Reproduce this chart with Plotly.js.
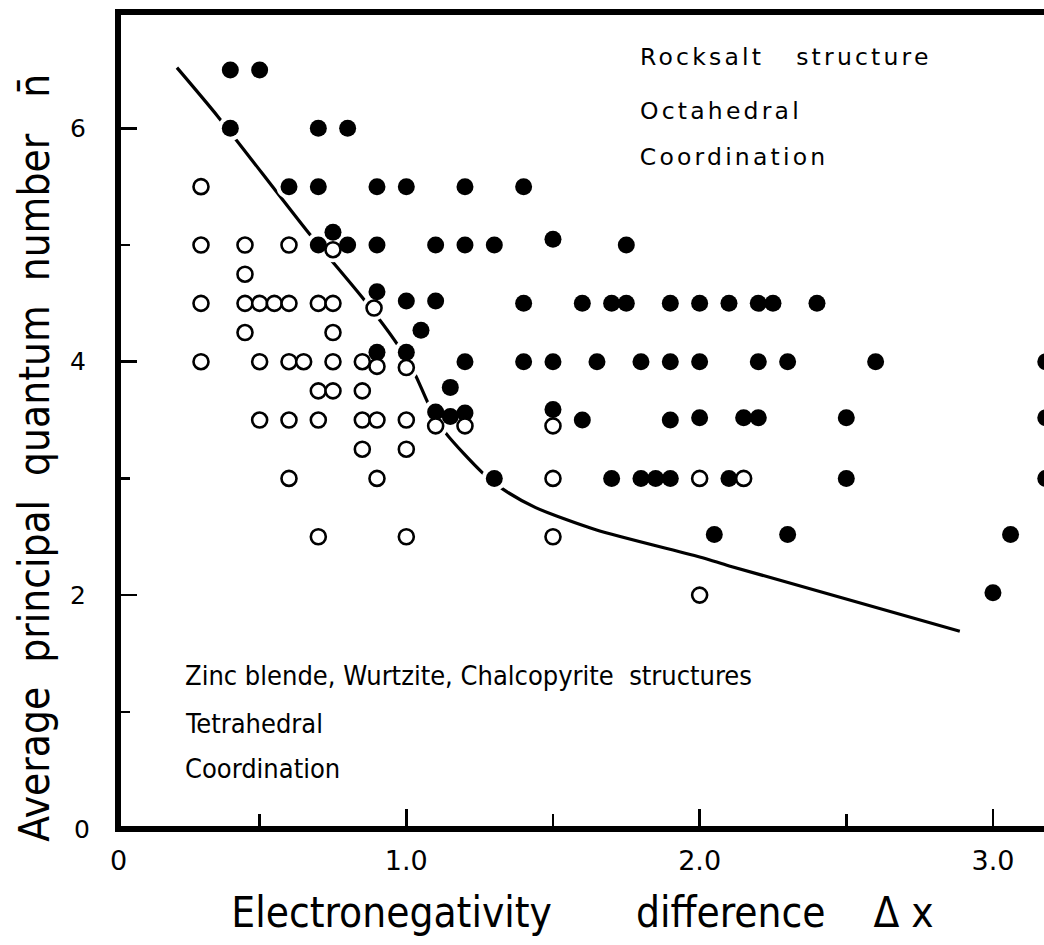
<!DOCTYPE html>
<html>
<head>
<meta charset="utf-8">
<script src="https://cdn.plot.ly/plotly-3.0.1.min.js"></script>
<style>
html,body{margin:0;padding:0;background:#fff;}
#chart{width:1044px;height:945px;}
g.annotation[data-index="2"] text,
g.annotation[data-index="3"] text,
g.annotation[data-index="4"] text{letter-spacing:3.2px;}
</style>
</head>
<body>
<div id="chart"></div>
<script>
// Rocksalt (octahedral) compounds: filled circles
var filledX = [0.40,0.50,
  0.40,0.70,0.80,
  0.60,0.70,0.90,1.00,1.20,1.40,
  0.70,0.80,0.90,1.10,1.20,1.30,1.50,1.75,
  0.75,
  0.90,1.00,1.10,1.40,1.60,1.70,1.75,1.90,2.00,2.10,2.20,2.25,2.40,
  1.05,
  0.90,1.00,1.20,1.40,1.50,1.65,1.80,1.90,2.00,2.20,2.30,2.60,3.18,
  1.15,
  1.10,1.15,1.20,1.50,1.60,1.90,2.00,2.15,2.20,2.50,3.18,
  1.30,1.70,1.80,1.85,1.90,2.10,2.50,3.18,
  2.05,2.30,3.06,
  3.00];
var filledY = [6.5,6.5,
  6.0,6.0,6.0,
  5.5,5.5,5.5,5.5,5.5,5.5,
  5.0,5.0,5.0,5.0,5.0,5.0,5.05,5.0,
  5.11,
  4.60,4.52,4.52,4.5,4.5,4.5,4.5,4.5,4.5,4.5,4.5,4.5,4.5,
  4.27,
  4.08,4.08,4.0,4.0,4.0,4.0,4.0,4.0,4.0,4.0,4.0,4.0,4.0,
  3.78,
  3.57,3.53,3.56,3.59,3.5,3.5,3.52,3.52,3.52,3.52,3.52,
  3.0,3.0,3.0,3.0,3.0,3.0,3.0,3.0,
  2.52,2.52,2.52,
  2.02];

// Zinc blende / wurtzite / chalcopyrite (tetrahedral) compounds: open circles
var openX = [0.30,
  0.30,0.45,0.60,0.75,
  0.45,
  0.30,0.45,0.50,0.55,0.60,0.70,0.75,0.89,
  0.45,0.75,
  0.30,0.50,0.60,0.65,0.75,0.85,0.90,1.00,
  0.70,0.75,0.85,
  0.50,0.60,0.70,0.85,0.90,1.00,1.10,1.20,1.50,
  0.85,1.00,
  0.60,0.90,1.50,2.00,2.15,
  0.70,1.00,1.50,
  2.00];
var openY = [5.5,
  5.0,5.0,5.0,4.96,
  4.75,
  4.5,4.5,4.5,4.5,4.5,4.5,4.5,4.46,
  4.25,4.25,
  4.0,4.0,4.0,4.0,4.0,4.0,3.96,3.95,
  3.75,3.75,3.75,
  3.5,3.5,3.5,3.5,3.5,3.5,3.45,3.45,3.45,
  3.25,3.25,
  3.0,3.0,3.0,3.0,3.0,
  2.5,2.5,2.5,
  2.0];

// Dividing line between the two structure families
var curveX = [0.218,0.358,0.668,0.850,0.969,1.032,1.077,1.134,1.259,1.328,1.441,1.646,2.010,2.101,2.887];
var curveY = [6.52,6.10,5.10,4.55,4.15,3.88,3.63,3.39,3.05,2.91,2.75,2.56,2.32,2.25,1.69];

var xTickVals = [1,2,3];
var xTickText = ['1.0','2.0','3.0'];
var xMinorVals = [0.5,1.5,2.5];
var yTickVals = [2,4,6];
var yTickText = ['2','4','6'];
var yMinorVals = [1,3,5];

var allX = filledX.concat(openX);
var allY = filledY.concat(openY);

var traces = [
  {x: curveX, y: curveY, mode: 'lines', type: 'scatter',
   line: {color: '#000', width: 3.2, shape: 'spline', smoothing: 0.7},
   hoverinfo: 'skip', showlegend: false},
  {x: allX, y: allY, mode: 'markers', type: 'scatter',
   marker: {color: '#fff', size: 25, line: {width: 0}},
   hoverinfo: 'skip', showlegend: false},
  {x: filledX, y: filledY, mode: 'markers', type: 'scatter', name: 'Octahedral',
   marker: {color: '#000', size: 17, symbol: 'circle', line: {width: 0}},
   showlegend: false},
  {x: openX, y: openY, mode: 'markers', type: 'scatter', name: 'Tetrahedral',
   marker: {color: '#fff', size: 15, symbol: 'circle', line: {color: '#000', width: 2.6}},
   showlegend: false}
];

var geo = 'DejaVu Sans, Lato, sans-serif';
var cond = 'DejaVu Sans Condensed, Liberation Sans, Arial, sans-serif';
var nb = '\u00A0';

function ann(text, x, y, fam, size, xref, yref, anchor) {
  return {text: text, x: x, y: y, xref: xref || 'x', yref: yref || 'y', showarrow: false,
    xanchor: anchor || 'left', yanchor: 'middle',
    font: {family: fam, size: size, color: '#000'}};
}

var yTitle = ann('Average' + nb.repeat(2) + 'principal' + nb.repeat(2) + 'quantum' + nb.repeat(2) + 'number' + nb.repeat(3) + 'n\u0304',
  -0.094, 0.4544, cond, 42, 'paper', 'paper', 'center');
yTitle.textangle = -90;

var layout = {
  width: 1044, height: 945,
  margin: {l: 121, r: 0, t: 15, b: 119},
  paper_bgcolor: '#fff', plot_bgcolor: '#fff',
  showlegend: false,
  xaxis: {
    range: [0.0273, 3.174],
    showline: true, linewidth: 6, linecolor: '#000', mirror: true,
    showgrid: false, zeroline: false,
    ticks: 'inside', ticklen: 17, tickwidth: 2.5, tickcolor: '#000',
    tickmode: 'array', tickvals: xTickVals, ticktext: xTickText,
    minor: {tickmode: 'array', tickvals: xMinorVals, ticks: 'inside', ticklen: 12, tickwidth: 2.5, tickcolor: '#000', showgrid: false},
    tickfont: {family: geo, size: 27, color: '#000'},
    ticklabelstandoff: 6,
    title: {text: 'Electronegativity' + nb.repeat(7) + 'difference' + nb.repeat(4) + '\u0394' + nb + 'x',
      font: {family: cond, size: 42, color: '#000'}, standoff: 24}
  },
  yaxis: {
    range: [0.0214, 6.971],
    showline: true, linewidth: 6, linecolor: '#000', mirror: false,
    showgrid: false, zeroline: false,
    ticks: 'inside', ticklen: 16, tickwidth: 2.5, tickcolor: '#000',
    tickmode: 'array', tickvals: yTickVals, ticktext: yTickText,
    minor: {tickmode: 'array', tickvals: yMinorVals, ticks: 'inside', ticklen: 9, tickwidth: 2.5, tickcolor: '#000', showgrid: false},
    tickfont: {family: geo, size: 25, color: '#000'},
    ticklabelstandoff: 24
  },
  annotations: [
    ann('0', -0.003, -0.043, geo, 27, 'paper', 'paper', 'center'),
    ann('0', -0.042, -0.004, geo, 25, 'paper', 'paper', 'center'),
    ann('Rocksalt' + nb.repeat(3) + 'structure', 1.899, 6.61, geo, 23.5),
    ann('Octahedral', 1.845, 6.15, geo, 23.5),
    ann('Coordination', 1.855, 5.75, geo, 23.5),
    ann('Zinc' + nb + 'blende,' + nb + 'Wurtzite,' + nb + 'Chalcopyrite' + nb + nb + 'structures', 0.24, 1.31, cond, 27),
    ann('Tetrahedral', 0.24, 0.90, cond, 27),
    ann('Coordination', 0.24, 0.51, cond, 27),
    yTitle
  ]
};

Plotly.newPlot('chart', traces, layout, {staticPlot: true, displayModeBar: false});
</script>
</body>
</html>
